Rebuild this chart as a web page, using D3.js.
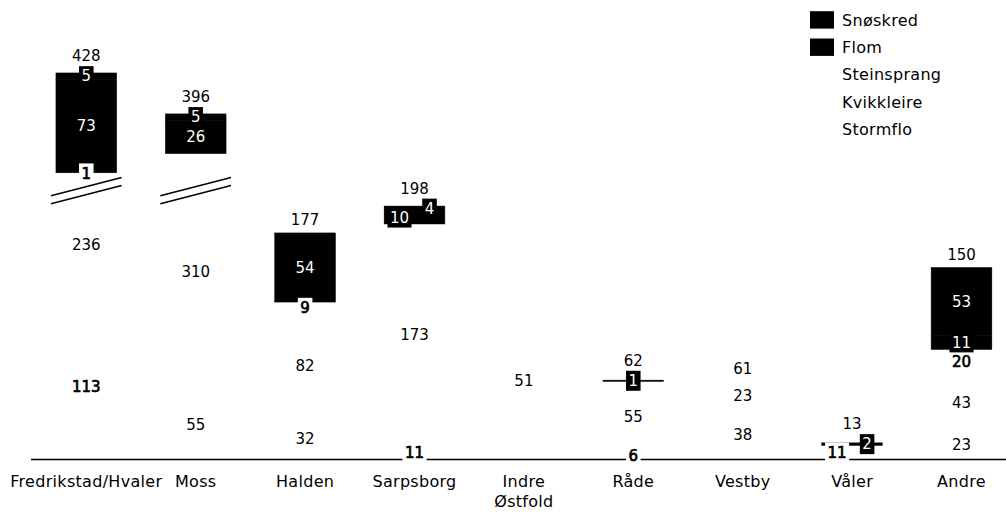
<!DOCTYPE html>
<html>
<head>
<meta charset="utf-8">
<script src="https://cdn.jsdelivr.net/npm/d3@7"></script>
<style>
  html, body { margin: 0; padding: 0; background: #fff; }
  svg { display: block; }
  text { font-family: "DejaVu Sans", "Noto Sans", sans-serif; fill: #000; }
</style>
</head>
<body>
<svg id="chart" width="1006" height="512"></svg>
<script>
// ---- Data ----
const categories = ["Fredrikstad/Hvaler", "Moss", "Halden", "Sarpsborg", "Indre Østfold", "Råde", "Vestby", "Våler", "Andre"];
const seriesNames = ["Snøskred", "Flom", "Steinsprang", "Kvikkleire", "Stormflo"];
const snoskred    = [5, 5, 0, 4, 0, 0, 0, 0, 53];
const flom        = [73, 26, 54, 10, 0, 1, 0, 2, 11];
const steinsprang = [1, 0, 9, 0, 0, 0, 0, 0, 20];
const kvikkleire  = [236, 310, 82, 173, 51, 55, 23, 0, 43];
const stormflo    = [113, 55, 32, 11, 0, 6, 38, 11, 23];
const axisBreak   = [210, 336];

// ---- Style ----
const seriesColors = {"Snøskred": "#000", "Flom": "#000", "Steinsprang": "#fff", "Kvikkleire": "#fff", "Stormflo": "#fff"};
const labelColors  = {"Snøskred": "#fff", "Flom": "#fff", "Steinsprang": "#000", "Kvikkleire": "#000", "Stormflo": "#000"};
const boldLabels = new Set([
  "Fredrikstad/Hvaler|Stormflo", "Fredrikstad/Hvaler|Steinsprang", "Halden|Steinsprang",
  "Sarpsborg|Stormflo", "Råde|Stormflo", "Våler|Stormflo", "Andre|Steinsprang"
]);

const valuesBySeries = {"Snøskred": snoskred, "Flom": flom, "Steinsprang": steinsprang, "Kvikkleire": kvikkleire, "Stormflo": stormflo};
const table = categories.map((c, i) => {
  const row = {category: c};
  seriesNames.forEach(s => row[s] = valuesBySeries[s][i]);
  return row;
});
const stackKeys = seriesNames.slice().reverse(); // bottom -> top
const stacked = d3.stack().keys(stackKeys)(table);

const svg = d3.select("#chart");
const fontSize = 15;
const textFontSize = 16;
const textSpacing = "0.3px";

const x = d3.scaleBand().domain(categories).range([31.6, 1016.2]).paddingInner(0.445).paddingOuter(0.2225);
const y = d3.scaleLinear().domain([0, axisBreak[0], axisBreak[1], 450]).range([459.5, 190.7, 190.7, 44.8]);

// Bars
const gBars = svg.append("g");
stacked.forEach(layer => {
  const col = seriesColors[layer.key];
  gBars.selectAll(null).data(layer.filter(d => d[1] - d[0] > 0)).enter().append("rect")
    .attr("x", d => x(d.data.category))
    .attr("width", x.bandwidth())
    .attr("y", d => y(d[1]))
    .attr("height", d => y(d[0]) - y(d[1]))
    .attr("fill", col)
    .attr("stroke", col === "#000" ? col : "none")
    .attr("stroke-width", 0.5);
});

// Axis
const xAxis = d3.axisBottom(x).tickSize(0).tickPadding(0);
const gAxis = svg.append("g").attr("transform", `translate(0,${y(0)})`).call(xAxis);
gAxis.select(".domain").attr("d", `M31,0H1006`).attr("stroke", "#000").attr("stroke-width", 1.5);
gAxis.selectAll(".tick text").remove();
gAxis.selectAll(".tick").each(function(c) {
  const t = d3.select(this).append("text")
    .attr("text-anchor", "middle")
    .attr("font-size", textFontSize)
    .style("letter-spacing", textSpacing)
    .attr("y", 21.5);
  const words = c === "Indre Østfold" ? ["Indre", "Østfold"] : [c];
  words.forEach((w, i) => t.append("tspan").attr("x", 0).attr("dy", i === 0 ? "0.35em" : "1.3em").text(w));
});

// Axis break symbols
const gBreak = svg.append("g");
categories.forEach((c, i) => {
  const total = d3.sum(seriesNames, s => valuesBySeries[s][i]);
  if (total <= axisBreak[1]) return;
  const x0 = x(c) - 5, x1 = x(c) + x.bandwidth() + 5, yb = y(axisBreak[0]);
  [-4, 4].forEach(off => {
    gBreak.append("line")
      .attr("x1", x0).attr("y1", yb + off + 9.15)
      .attr("x2", x1).attr("y2", yb + off - 9.15)
      .attr("stroke", "#000").attr("stroke-width", 1.5);
  });
});

// Segment labels
const gLabels = svg.append("g");
const boxH = 20, pad = 2.5;
const totalLabelY = {};
categories.forEach((c, i) => {
  const segs = [];
  stacked.forEach(layer => {
    const d = layer[i];
    const v = d[1] - d[0];
    if (v > 0) segs.push({series: layer.key, v, cy: (y(d[0]) + y(d[1])) / 2, cx: x(c) + x.bandwidth() / 2});
  });
  const total = d3.sum(segs, s => s.v);
  let labelTop = y(total) - 13;
  if (segs.length > 1) {
    segs.sort((a, b) => b.cy - a.cy);
    for (let k = 1; k < segs.length; k++) {
      if (Math.abs(segs[k - 1].cy - segs[k].cy) < 16) {
        segs[k - 1].cx -= 15;
        segs[k].cx += 15;
      }
    }
    segs.forEach(s => {
      const g = gLabels.append("g").attr("transform", `translate(${s.cx},${s.cy})`);
      const bold = boldLabels.has(c + "|" + s.series);
      const t = g.append("text")
        .attr("text-anchor", "middle")
        .attr("dy", "0.35em")
        .attr("font-size", fontSize)
        .style("fill", labelColors[s.series])
        .style("stroke", bold ? labelColors[s.series] : "none")
        .style("stroke-width", bold ? 0.7 : 0)
        .text(s.v);
      const w = t.node().getComputedTextLength() + 2 * pad;
      g.insert("rect", "text")
        .attr("x", -w / 2).attr("y", -boxH / 2)
        .attr("width", w).attr("height", boxH)
        .attr("fill", seriesColors[s.series]);
      if (s.cy - boxH / 2 < y(total)) labelTop = Math.min(labelTop, s.cy - boxH / 2 - 10);
    });
  }
  totalLabelY[c] = {y: labelTop, total};
});

// Total labels
svg.append("g").selectAll("text").data(categories).enter().append("text")
  .attr("x", c => x(c) + x.bandwidth() / 2)
  .attr("y", c => totalLabelY[c].y)
  .attr("dy", "0.35em")
  .attr("text-anchor", "middle")
  .attr("font-size", fontSize)
  .text(c => totalLabelY[c].total);

// Legend
const legend = svg.append("g").attr("transform", "translate(810,20)");
seriesNames.forEach((s, i) => {
  const g = legend.append("g").attr("transform", `translate(0,${i * 27.3})`);
  g.append("rect").attr("x", 0).attr("y", -8.8).attr("width", 24).attr("height", 17.4).attr("fill", seriesColors[s]);
  g.append("text").attr("x", 32).attr("dy", "0.35em").attr("font-size", textFontSize)
    .style("letter-spacing", textSpacing).text(s);
});
</script>
</body>
</html>
